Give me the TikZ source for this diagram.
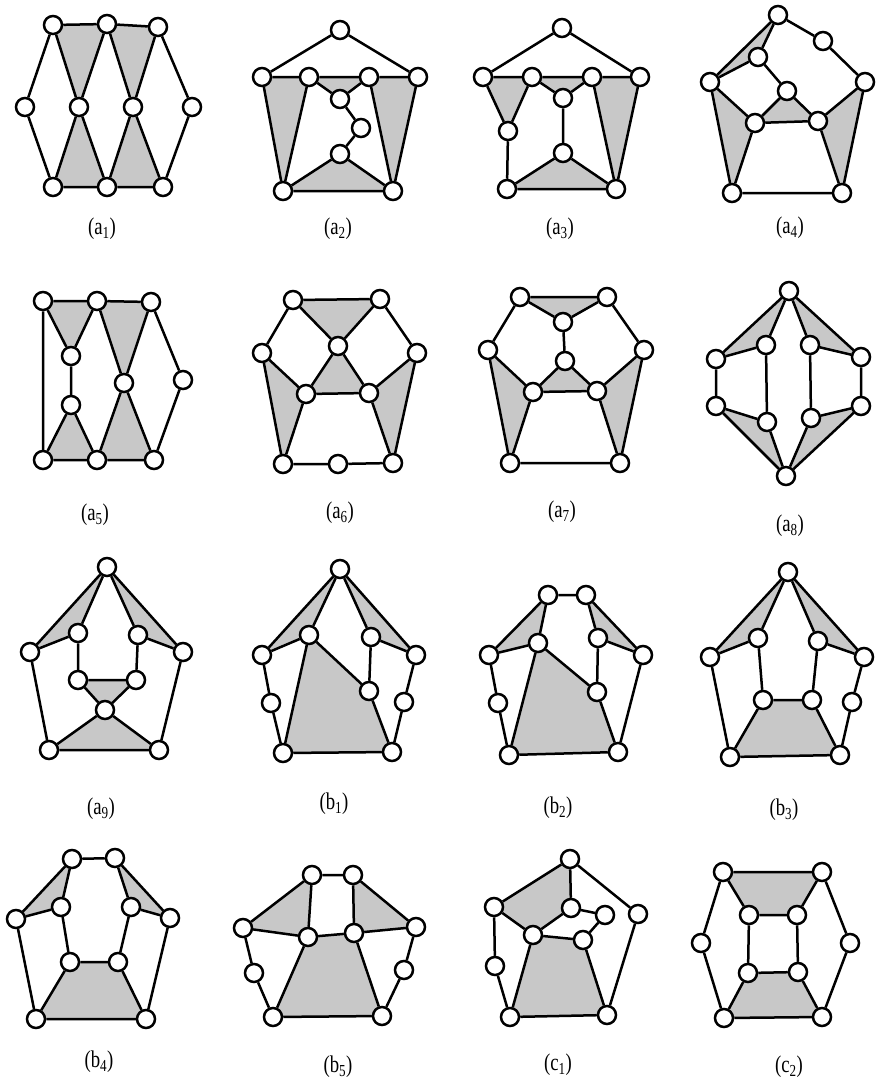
\documentclass[tikz,border=0pt]{standalone}
\usepackage{fontspec}
\setmainfont{Liberation Serif}
\pgfdeclarelayer{bg}
\pgfsetlayers{bg,main}
\definecolor{shadegray}{RGB}{200,200,200}
\begin{document}
\begin{tikzpicture}[x=1pt,y=-1pt,
  vtx/.style={circle,draw=black,fill=white,line width=2.5pt,minimum size=18pt,inner sep=0pt},
  ed/.style={line width=2.5pt,black},
  sh/.style={fill=shadegray},
  lab/.style={font=\fontsize{24}{28}\selectfont,inner sep=0pt}]
\useasboundingbox (0,0) rectangle (875,1081);
\newcommand{\sub}[1]{\textsubscript{#1}}
\newcommand{\lbl}[2]{\scalebox{0.78}[1]{(#1\sub{#2})}}
% ---------------- a1
\foreach \n/\x/\y in {a/53/25,b/107/24,c/158/27,l/25/107,m/79/107,n/133/107,r/192/107,d/53/187,e/107/187,f/163/187}
  \node[vtx] (A1\n) at (\x,\y) {};
\begin{pgfonlayer}{bg}
\fill[sh] (A1a.center)--(A1b.center)--(A1m.center)--cycle;
\fill[sh] (A1b.center)--(A1c.center)--(A1n.center)--cycle;
\fill[sh] (A1m.center)--(A1d.center)--(A1e.center)--cycle;
\fill[sh] (A1n.center)--(A1e.center)--(A1f.center)--cycle;
\end{pgfonlayer}
\draw[ed] (A1a)--(A1b) (A1b)--(A1c) (A1a)--(A1l) (A1l)--(A1d) (A1c)--(A1r) (A1r)--(A1f)
 (A1a)--(A1m) (A1b)--(A1m) (A1b)--(A1n) (A1c)--(A1n) (A1m)--(A1d) (A1m)--(A1e)
 (A1n)--(A1e) (A1n)--(A1f) (A1d)--(A1e) (A1e)--(A1f);
\node[lab] (LA1) at (102,229) {\lbl{a}{1}};
% ---------------- a2
\foreach \n/\x/\y in {t/340/30,l/262/77,p/309/77,q/369/77,r/418/77,x/340/99,y/361/128,z/340/154,d/283/191,f/393/191}
  \node[vtx] (A2\n) at (\x,\y) {};
\begin{pgfonlayer}{bg}
\fill[sh] (A2l.center)--(A2p.center)--(A2d.center)--cycle;
\fill[sh] (A2q.center)--(A2r.center)--(A2f.center)--cycle;
\fill[sh] (A2p.center)--(A2q.center)--(A2x.center)--cycle;
\fill[sh] (A2z.center)--(A2d.center)--(A2f.center)--cycle;
\end{pgfonlayer}
\draw[ed] (A2t)--(A2l) (A2t)--(A2r) (A2l)--(A2p) (A2p)--(A2q) (A2q)--(A2r)
 (A2l)--(A2d) (A2p)--(A2d) (A2q)--(A2f) (A2r)--(A2f) (A2p)--(A2x) (A2q)--(A2x)
 (A2x)--(A2y) (A2y)--(A2z) (A2z)--(A2d) (A2z)--(A2f) (A2d)--(A2f);
\node[lab] (LA2) at (338,229) {\lbl{a}{2}};
% ---------------- a3
\foreach \n/\x/\y in {t/562/28,l/483/77,p/532/77,q/592/77,r/640/77,x/563/98,w/508/131,z/563/153,d/507/189,f/616/189}
  \node[vtx] (A3\n) at (\x,\y) {};
\begin{pgfonlayer}{bg}
\fill[sh] (A3l.center)--(A3p.center)--(A3w.center)--cycle;
\fill[sh] (A3p.center)--(A3q.center)--(A3x.center)--cycle;
\fill[sh] (A3q.center)--(A3r.center)--(A3f.center)--cycle;
\fill[sh] (A3z.center)--(A3d.center)--(A3f.center)--cycle;
\end{pgfonlayer}
\draw[ed] (A3t)--(A3l) (A3t)--(A3r) (A3l)--(A3p) (A3p)--(A3q) (A3q)--(A3r)
 (A3l)--(A3w) (A3p)--(A3w) (A3p)--(A3x) (A3q)--(A3x) (A3q)--(A3f) (A3r)--(A3f)
 (A3x)--(A3z) (A3w)--(A3d) (A3z)--(A3d) (A3z)--(A3f) (A3d)--(A3f);
\node[lab] (LA3) at (560,229) {\lbl{a}{3}};
% ---------------- a4
\foreach \n/\x/\y in {t/778/15,u/823/41,r/865/82,l/710/82,n/758/57,c/787/91,p/755/123,q/818/121,d/732/193,f/842/193}
  \node[vtx] (A4\n) at (\x,\y) {};
\begin{pgfonlayer}{bg}
\fill[sh] (A4t.center)--(A4l.center)--(A4n.center)--cycle;
\fill[sh] (A4c.center)--(A4p.center)--(A4q.center)--cycle;
\fill[sh] (A4l.center)--(A4p.center)--(A4d.center)--cycle;
\fill[sh] (A4r.center)--(A4q.center)--(A4f.center)--cycle;
\end{pgfonlayer}
\draw[ed] (A4t)--(A4u) (A4u)--(A4r) (A4t)--(A4l) (A4t)--(A4n) (A4l)--(A4n) (A4n)--(A4c)
 (A4c)--(A4p) (A4c)--(A4q) (A4p)--(A4q) (A4l)--(A4p) (A4l)--(A4d) (A4p)--(A4d)
 (A4r)--(A4q) (A4r)--(A4f) (A4q)--(A4f) (A4d)--(A4f);
\node[lab] (LA4) at (790,228) {\lbl{a}{4}};
% ---------------- a5
\foreach \n/\x/\y in {a/43/301,b/97/301,c/151/302,x/71/356,y/71/405,m/124/383,r/183/380,d/43/460,e/97/460,f/154/460}
  \node[vtx] (A5\n) at (\x,\y) {};
\begin{pgfonlayer}{bg}
\fill[sh] (A5a.center)--(A5b.center)--(A5x.center)--cycle;
\fill[sh] (A5y.center)--(A5d.center)--(A5e.center)--cycle;
\fill[sh] (A5b.center)--(A5c.center)--(A5m.center)--cycle;
\fill[sh] (A5m.center)--(A5e.center)--(A5f.center)--cycle;
\end{pgfonlayer}
\draw[ed] (A5a)--(A5b) (A5b)--(A5c) (A5a)--(A5d) (A5a)--(A5x) (A5b)--(A5x) (A5x)--(A5y)
 (A5y)--(A5d) (A5y)--(A5e) (A5b)--(A5m) (A5c)--(A5m) (A5m)--(A5e) (A5m)--(A5f)
 (A5c)--(A5r) (A5r)--(A5f) (A5d)--(A5e) (A5e)--(A5f);
\node[lab] (LA5) at (95,515) {\lbl{a}{5}};
% ---------------- a6
\foreach \n/\x/\y in {a/293/300,b/380/299,c/338/346,l/262/353,r/417/353,p/306/394,q/369/393,d/283/464,e/338/464,f/393/463}
  \node[vtx] (A6\n) at (\x,\y) {};
\begin{pgfonlayer}{bg}
\fill[sh] (A6a.center)--(A6b.center)--(A6c.center)--cycle;
\fill[sh] (A6c.center)--(A6p.center)--(A6q.center)--cycle;
\fill[sh] (A6l.center)--(A6p.center)--(A6d.center)--cycle;
\fill[sh] (A6r.center)--(A6q.center)--(A6f.center)--cycle;
\end{pgfonlayer}
\draw[ed] (A6a)--(A6b) (A6a)--(A6c) (A6b)--(A6c) (A6a)--(A6l) (A6b)--(A6r)
 (A6c)--(A6p) (A6c)--(A6q) (A6p)--(A6q) (A6l)--(A6p) (A6l)--(A6d) (A6p)--(A6d)
 (A6r)--(A6q) (A6r)--(A6f) (A6q)--(A6f) (A6d)--(A6e) (A6e)--(A6f);
\node[lab] (LA6) at (340,513) {\lbl{a}{6}};
% ---------------- a7
\foreach \n/\x/\y in {a/520/297,b/607/297,x/563/322,y/565/361,l/488/350,r/644/350,p/533/392,q/597/391,d/510/463,f/620/463}
  \node[vtx] (A7\n) at (\x,\y) {};
\begin{pgfonlayer}{bg}
\fill[sh] (A7a.center)--(A7b.center)--(A7x.center)--cycle;
\fill[sh] (A7y.center)--(A7p.center)--(A7q.center)--cycle;
\fill[sh] (A7l.center)--(A7p.center)--(A7d.center)--cycle;
\fill[sh] (A7r.center)--(A7q.center)--(A7f.center)--cycle;
\end{pgfonlayer}
\draw[ed] (A7a)--(A7b) (A7a)--(A7x) (A7b)--(A7x) (A7a)--(A7l) (A7b)--(A7r) (A7x)--(A7y)
 (A7y)--(A7p) (A7y)--(A7q) (A7p)--(A7q) (A7l)--(A7p) (A7l)--(A7d) (A7p)--(A7d)
 (A7r)--(A7q) (A7r)--(A7f) (A7q)--(A7f) (A7d)--(A7f);
\node[lab] (LA7) at (562,512) {\lbl{a}{7}};
% ---------------- a8
\foreach \n/\x/\y in {t/789/291,u/766/345,v/810/345,g/716/359,h/861/357,j/716/406,k/861/406,w/767/422,x/811/418,b/786/476}
  \node[vtx] (A8\n) at (\x,\y) {};
\begin{pgfonlayer}{bg}
\fill[sh] (A8t.center)--(A8g.center)--(A8u.center)--cycle;
\fill[sh] (A8t.center)--(A8h.center)--(A8v.center)--cycle;
\fill[sh] (A8b.center)--(A8j.center)--(A8w.center)--cycle;
\fill[sh] (A8b.center)--(A8k.center)--(A8x.center)--cycle;
\end{pgfonlayer}
\draw[ed] (A8t)--(A8g) (A8t)--(A8u) (A8g)--(A8u) (A8t)--(A8h) (A8t)--(A8v) (A8h)--(A8v)
 (A8u)--(A8w) (A8v)--(A8x) (A8g)--(A8j) (A8h)--(A8k)
 (A8b)--(A8j) (A8b)--(A8w) (A8j)--(A8w) (A8b)--(A8k) (A8b)--(A8x) (A8k)--(A8x);
\node[lab] (LA8) at (790,526) {\lbl{a}{8}};
% ---------------- a9
\foreach \n/\x/\y in {t/107/567,l/30/652,r/183/652,u/78/633,v/138/635,p/78/680,q/136/680,c/105/710,d/49/750,f/159/750}
  \node[vtx] (A9\n) at (\x,\y) {};
\begin{pgfonlayer}{bg}
\fill[sh] (A9t.center)--(A9l.center)--(A9u.center)--cycle;
\fill[sh] (A9t.center)--(A9r.center)--(A9v.center)--cycle;
\fill[sh] (A9p.center)--(A9q.center)--(A9c.center)--cycle;
\fill[sh] (A9c.center)--(A9d.center)--(A9f.center)--cycle;
\end{pgfonlayer}
\draw[ed] (A9t)--(A9l) (A9t)--(A9u) (A9l)--(A9u) (A9t)--(A9r) (A9t)--(A9v) (A9r)--(A9v)
 (A9u)--(A9p) (A9v)--(A9q) (A9p)--(A9q) (A9p)--(A9c) (A9q)--(A9c)
 (A9c)--(A9d) (A9c)--(A9f) (A9d)--(A9f) (A9l)--(A9d) (A9r)--(A9f);
\node[lab] (LA9) at (101,809) {\lbl{a}{9}};
% ---------------- b1
\foreach \n/\x/\y in {t/340/569,l/262/655,r/416/655,u/309/635,v/371/637,g/271/703,h/404/702,m/369/691,d/283/753,f/392/752}
  \node[vtx] (B1\n) at (\x,\y) {};
\begin{pgfonlayer}{bg}
\fill[sh] (B1t.center)--(B1l.center)--(B1u.center)--cycle;
\fill[sh] (B1t.center)--(B1r.center)--(B1v.center)--cycle;
\fill[sh] (B1u.center)--(B1m.center)--(B1f.center)--(B1d.center)--cycle;
\end{pgfonlayer}
\draw[ed] (B1t)--(B1l) (B1t)--(B1u) (B1l)--(B1u) (B1t)--(B1r) (B1t)--(B1v) (B1r)--(B1v)
 (B1l)--(B1g) (B1g)--(B1d) (B1r)--(B1h) (B1h)--(B1f) (B1v)--(B1m)
 (B1u)--(B1m) (B1m)--(B1f) (B1f)--(B1d) (B1d)--(B1u);
\node[lab] (LB1) at (334,804) {\lbl{b}{1}};
% ---------------- b2
\foreach \n/\x/\y in {s/548/595,t/586/595,l/489/655,r/643/655,u/538/643,v/598/638,g/498/703,m/597/692,d/509/755,f/618/752}
  \node[vtx] (B2\n) at (\x,\y) {};
\begin{pgfonlayer}{bg}
\fill[sh] (B2s.center)--(B2l.center)--(B2u.center)--cycle;
\fill[sh] (B2t.center)--(B2r.center)--(B2v.center)--cycle;
\fill[sh] (B2u.center)--(B2m.center)--(B2f.center)--(B2d.center)--cycle;
\end{pgfonlayer}
\draw[ed] (B2s)--(B2t) (B2s)--(B2l) (B2s)--(B2u) (B2l)--(B2u) (B2t)--(B2r) (B2t)--(B2v) (B2r)--(B2v)
 (B2l)--(B2g) (B2g)--(B2d) (B2r)--(B2f) (B2v)--(B2m)
 (B2u)--(B2m) (B2m)--(B2f) (B2f)--(B2d) (B2d)--(B2u);
\node[lab] (LB2) at (558,808) {\lbl{b}{2}};
% ---------------- b3
\foreach \n/\x/\y in {t/788/572,l/710/657,r/864/657,u/758/638,v/818/641,p/763/700,q/812/700,h/852/702,d/730/757,f/840/755}
  \node[vtx] (B3\n) at (\x,\y) {};
\begin{pgfonlayer}{bg}
\fill[sh] (B3t.center)--(B3l.center)--(B3u.center)--cycle;
\fill[sh] (B3t.center)--(B3r.center)--(B3v.center)--cycle;
\fill[sh] (B3p.center)--(B3q.center)--(B3f.center)--(B3d.center)--cycle;
\end{pgfonlayer}
\draw[ed] (B3t)--(B3l) (B3t)--(B3u) (B3l)--(B3u) (B3t)--(B3r) (B3t)--(B3v) (B3r)--(B3v)
 (B3u)--(B3p) (B3v)--(B3q) (B3l)--(B3d) (B3r)--(B3h) (B3h)--(B3f)
 (B3p)--(B3q) (B3q)--(B3f) (B3f)--(B3d) (B3d)--(B3p);
\node[lab] (LB3) at (784,810) {\lbl{b}{3}};
% ---------------- b4
\foreach \n/\x/\y in {s/72/859,t/115/858,l/16/919,r/170/918,u/61/907,v/131/907,p/70/962,q/118/962,d/36/1019,f/146/1019}
  \node[vtx] (B4\n) at (\x,\y) {};
\begin{pgfonlayer}{bg}
\fill[sh] (B4s.center)--(B4l.center)--(B4u.center)--cycle;
\fill[sh] (B4t.center)--(B4r.center)--(B4v.center)--cycle;
\fill[sh] (B4p.center)--(B4q.center)--(B4f.center)--(B4d.center)--cycle;
\end{pgfonlayer}
\draw[ed] (B4s)--(B4t) (B4s)--(B4l) (B4s)--(B4u) (B4l)--(B4u) (B4t)--(B4r) (B4t)--(B4v) (B4r)--(B4v)
 (B4u)--(B4p) (B4v)--(B4q) (B4l)--(B4d) (B4r)--(B4f)
 (B4p)--(B4q) (B4q)--(B4f) (B4f)--(B4d) (B4d)--(B4p);
\node[lab] (LB4) at (99,1062) {\lbl{b}{4}};
% ---------------- b5
\foreach \n/\x/\y in {s/312/875,t/353/875,l/243/928,r/416/927,p/308/937,q/354/933,g/254/973,h/404/970,d/273/1017,f/382/1016}
  \node[vtx] (B5\n) at (\x,\y) {};
\begin{pgfonlayer}{bg}
\fill[sh] (B5s.center)--(B5l.center)--(B5p.center)--cycle;
\fill[sh] (B5t.center)--(B5r.center)--(B5q.center)--cycle;
\fill[sh] (B5p.center)--(B5q.center)--(B5f.center)--(B5d.center)--cycle;
\end{pgfonlayer}
\draw[ed] (B5s)--(B5t) (B5s)--(B5l) (B5l)--(B5p) (B5s)--(B5p) (B5t)--(B5r) (B5r)--(B5q) (B5t)--(B5q)
 (B5p)--(B5q) (B5q)--(B5f) (B5f)--(B5d) (B5d)--(B5p)
 (B5l)--(B5g) (B5g)--(B5d) (B5r)--(B5h) (B5h)--(B5f);
\node[lab] (LB5) at (338,1067) {\lbl{b}{5}};
% ---------------- c1
\foreach \n/\x/\y in {t/570/859,l/494/907,r/638/914,c/571/908,x/605/915,p/533/935,q/583/940,g/495/966,d/510/1017,f/607/1015}
  \node[vtx] (C1\n) at (\x,\y) {};
\begin{pgfonlayer}{bg}
\fill[sh] (C1t.center)--(C1l.center)--(C1p.center)--(C1c.center)--cycle;
\fill[sh] (C1p.center)--(C1q.center)--(C1f.center)--(C1d.center)--cycle;
\end{pgfonlayer}
\draw[ed] (C1t)--(C1l) (C1l)--(C1p) (C1p)--(C1c) (C1c)--(C1t) (C1t)--(C1r) (C1r)--(C1f)
 (C1c)--(C1x) (C1x)--(C1q) (C1l)--(C1g) (C1g)--(C1d)
 (C1p)--(C1q) (C1q)--(C1f) (C1f)--(C1d) (C1d)--(C1p);
\node[lab] (LC1) at (558,1065) {\lbl{c}{1}};
% ---------------- c2
\foreach \n/\x/\y in {a/723/872,b/822/872,u/749/915,v/797/915,l/701/943,r/850/943,p/748/973,q/798/972,d/724/1018,f/822/1017}
  \node[vtx] (C2\n) at (\x,\y) {};
\begin{pgfonlayer}{bg}
\fill[sh] (C2a.center)--(C2b.center)--(C2v.center)--(C2u.center)--cycle;
\fill[sh] (C2p.center)--(C2q.center)--(C2f.center)--(C2d.center)--cycle;
\end{pgfonlayer}
\draw[ed] (C2a)--(C2b) (C2b)--(C2v) (C2v)--(C2u) (C2u)--(C2a) (C2u)--(C2p) (C2v)--(C2q)
 (C2p)--(C2q) (C2q)--(C2f) (C2f)--(C2d) (C2d)--(C2p)
 (C2a)--(C2l) (C2l)--(C2d) (C2b)--(C2r) (C2r)--(C2f);
\node[lab] (LC2) at (789,1067) {\lbl{c}{2}};
\end{tikzpicture}
\end{document}
